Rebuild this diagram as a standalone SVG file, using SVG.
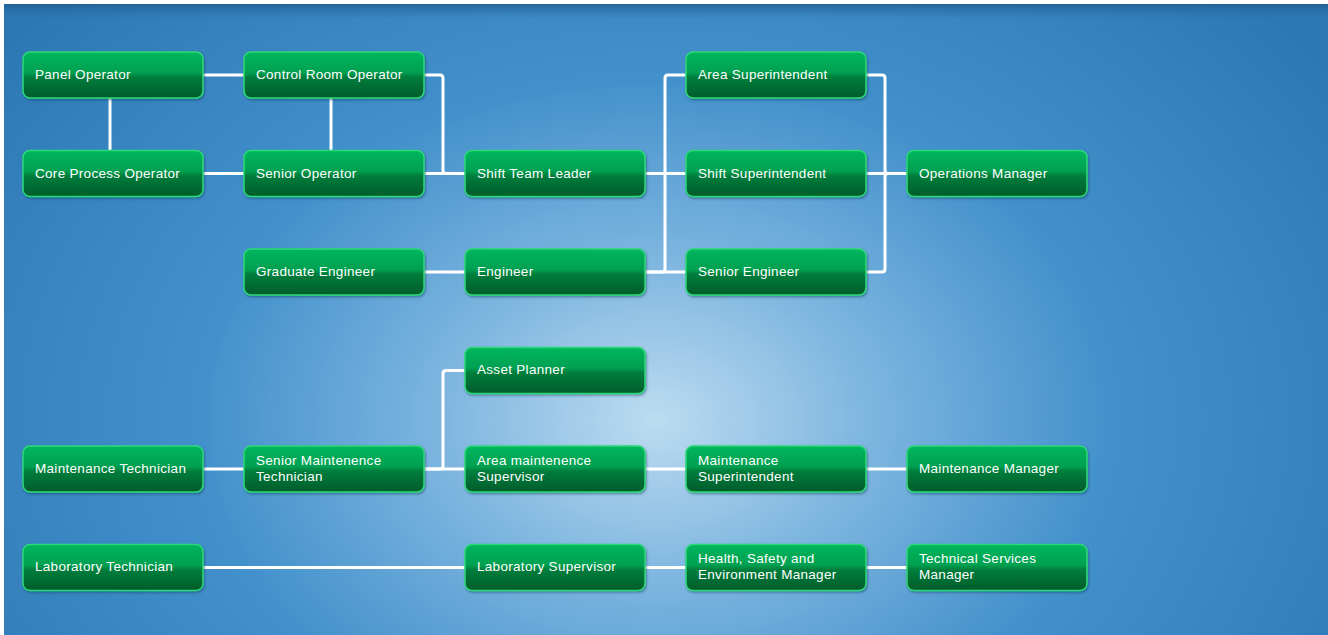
<svg xmlns="http://www.w3.org/2000/svg" width="1328" height="635" viewBox="0 0 1328 635">
<defs>
<radialGradient id="bg" cx="655" cy="420" r="820" gradientUnits="userSpaceOnUse" gradientTransform="translate(655 420) scale(1 0.75) translate(-655 -420)">
<stop offset="0" stop-color="#bcdcf0"/>
<stop offset="0.25" stop-color="#80b7e0"/>
<stop offset="0.55" stop-color="#4391cc"/>
<stop offset="1" stop-color="#2c78b4"/>
</radialGradient>
<linearGradient id="band" x1="0" y1="0" x2="0" y2="1">
<stop offset="0" stop-color="#1f5e92" stop-opacity="0.8"/>
<stop offset="1" stop-color="#2a72ae" stop-opacity="0"/>
</linearGradient>
<linearGradient id="node" x1="0" y1="0" x2="0" y2="1">
<stop offset="0" stop-color="#00b65e"/>
<stop offset="0.45" stop-color="#00a050"/>
<stop offset="0.55" stop-color="#007d3c"/>
<stop offset="1" stop-color="#005c2a"/>
</linearGradient>
<filter id="sh" x="-10%" y="-20%" width="120%" height="150%">
<feDropShadow dx="1" dy="1.5" stdDeviation="1.2" flood-color="#0a3050" flood-opacity="0.45"/>
</filter>
</defs>
<style>
.n rect{fill:url(#node);stroke:#2bd978;stroke-width:1.5;filter:url(#sh)}
.n text{fill:#ffffff;font-family:"Liberation Sans","DejaVu Sans",sans-serif;font-size:13.5px;letter-spacing:0.3px}
.c path{fill:none;stroke:#ffffff;stroke-width:3;stroke-linejoin:round}
</style>
<rect x="0" y="0" width="1328" height="635" fill="#ffffff"/>
<rect x="4" y="4" width="1324" height="631" fill="url(#bg)"/>
<rect x="4" y="4" width="1324" height="16" fill="url(#band)"/>

<g id="connectors" class="c">
<path d="M203 75H244"/>
<path d="M110 98V151"/>
<path d="M331 98V151"/>
<path d="M203 173.5H244"/>
<path d="M424 75H440Q443 75 443 78V170.5Q443 173.5 446 173.5H465"/>
<path d="M424 173.5H465"/>
<path d="M645 173.5H686"/>
<path d="M424 272H465"/>
<path d="M645 272H686"/>
<path d="M645 272H662Q665 272 665 269V78Q665 75 668 75H686"/>
<path d="M866 75H882Q885 75 885 78V170.5Q885 173.5 888 173.5H907"/>
<path d="M866 173.5H907"/>
<path d="M866 272H882Q885 272 885 269V176.5Q885 173.5 888 173.5"/>
<path d="M203 469H244"/>
<path d="M424 469H440Q443 469 443 466V373.5Q443 370.5 446 370.5H465"/>
<path d="M424 469H465"/>
<path d="M645 469H686"/>
<path d="M866 469H907"/>
<path d="M203 567.5H465"/>
<path d="M645 567.5H686"/>
<path d="M866 567.5H907"/>
</g>

<g id="panel-operator" class="n"><rect x="23" y="52" width="180" height="46" rx="7"/><text x="35" y="79">Panel Operator</text></g>
<g id="control-room-operator" class="n"><rect x="244" y="52" width="180" height="46" rx="7"/><text x="256" y="79">Control Room Operator</text></g>
<g id="core-process-operator" class="n"><rect x="23" y="150.5" width="180" height="46" rx="7"/><text x="35" y="178">Core Process Operator</text></g>
<g id="senior-operator" class="n"><rect x="244" y="150.5" width="180" height="46" rx="7"/><text x="256" y="178">Senior Operator</text></g>
<g id="shift-team-leader" class="n"><rect x="465" y="150.5" width="180" height="46" rx="7"/><text x="477" y="178">Shift Team Leader</text></g>
<g id="area-superintendent" class="n"><rect x="686" y="52" width="180" height="46" rx="7"/><text x="698" y="79">Area Superintendent</text></g>
<g id="shift-superintendent" class="n"><rect x="686" y="150.5" width="180" height="46" rx="7"/><text x="698" y="178">Shift Superintendent</text></g>
<g id="operations-manager" class="n"><rect x="907" y="150.5" width="180" height="46" rx="7"/><text x="919" y="178">Operations Manager</text></g>
<g id="graduate-engineer" class="n"><rect x="244" y="249" width="180" height="46" rx="7"/><text x="256" y="276">Graduate Engineer</text></g>
<g id="engineer" class="n"><rect x="465" y="249" width="180" height="46" rx="7"/><text x="477" y="276">Engineer</text></g>
<g id="senior-engineer" class="n"><rect x="686" y="249" width="180" height="46" rx="7"/><text x="698" y="276">Senior Engineer</text></g>
<g id="asset-planner" class="n"><rect x="465" y="347.5" width="180" height="46" rx="7"/><text x="477" y="374">Asset Planner</text></g>
<g id="maintenance-technician" class="n"><rect x="23" y="446" width="180" height="46" rx="7"/><text x="35" y="473">Maintenance Technician</text></g>
<g id="senior-maintenence-technician" class="n"><rect x="244" y="446" width="180" height="46" rx="7"/><text x="256" y="465">Senior Maintenence</text><text x="256" y="481">Technician</text></g>
<g id="area-maintenence-supervisor" class="n"><rect x="465" y="446" width="180" height="46" rx="7"/><text x="477" y="465">Area maintenence</text><text x="477" y="481">Supervisor</text></g>
<g id="maintenance-superintendent" class="n"><rect x="686" y="446" width="180" height="46" rx="7"/><text x="698" y="465">Maintenance</text><text x="698" y="481">Superintendent</text></g>
<g id="maintenance-manager" class="n"><rect x="907" y="446" width="180" height="46" rx="7"/><text x="919" y="473">Maintenance Manager</text></g>
<g id="laboratory-technician" class="n"><rect x="23" y="544.5" width="180" height="46" rx="7"/><text x="35" y="571">Laboratory Technician</text></g>
<g id="laboratory-supervisor" class="n"><rect x="465" y="544.5" width="180" height="46" rx="7"/><text x="477" y="571">Laboratory Supervisor</text></g>
<g id="hse-manager" class="n"><rect x="686" y="544.5" width="180" height="46" rx="7"/><text x="698" y="563">Health, Safety and</text><text x="698" y="579">Environment Manager</text></g>
<g id="technical-services-manager" class="n"><rect x="907" y="544.5" width="180" height="46" rx="7"/><text x="919" y="563">Technical Services</text><text x="919" y="579">Manager</text></g>
</svg>
